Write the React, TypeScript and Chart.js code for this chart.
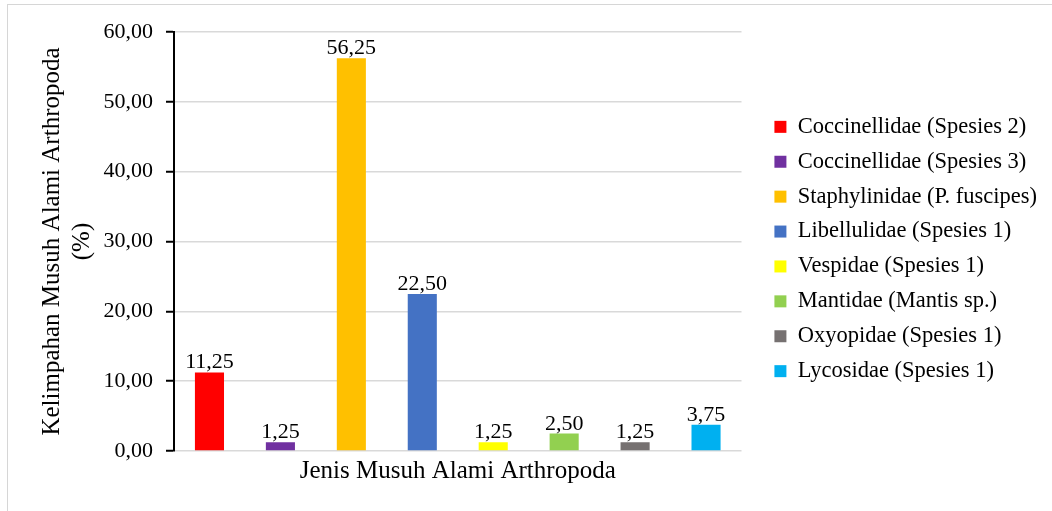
import React, { useEffect, useRef } from 'react';
import { Chart, registerables } from 'chart.js';

Chart.register(...registerables);

// ---- data ----
const categories = ['Jenis Musuh Alami Arthropoda'];
const seriesNames = [
  'Coccinellidae (Spesies 2)',
  'Coccinellidae (Spesies 3)',
  'Staphylinidae (P. fuscipes)',
  'Libellulidae (Spesies 1)',
  'Vespidae (Spesies 1)',
  'Mantidae (Mantis sp.)',
  'Oxyopidae (Spesies 1)',
  'Lycosidae (Spesies 1)',
];
const seriesValues = [11.25, 1.25, 56.25, 22.5, 1.25, 2.5, 1.25, 3.75];
const seriesColors = ['#FF0000', '#7030A0', '#FFC000', '#4472C4', '#FFFF00', '#92D050', '#767171', '#00B0F0'];
const yAxisTitle = ['Kelimpahan Musuh Alami Arthropoda', '(%)'];
const yMin = 0;
const yMax = 60;
const yStep = 10;

const FONT = "'Liberation Serif', 'Times New Roman', serif";
const fmt = (v: number) => Number(v).toFixed(2).replace('.', ',');

const valueLabels = {
  id: 'valueLabels',
  afterDatasetsDraw(chart: any) {
    const ctx = chart.ctx;
    ctx.save();
    ctx.font = `22px ${FONT}`;
    ctx.fillStyle = '#000';
    ctx.textAlign = 'center';
    ctx.textBaseline = 'alphabetic';
    chart.data.datasets.forEach((ds: any, i: number) => {
      const meta = chart.getDatasetMeta(i);
      meta.data.forEach((bar: any, j: number) => {
        ctx.fillText(fmt(ds.data[j]), bar.x, bar.y - 4);
      });
    });
    ctx.restore();
  },
};

export default function App() {
  const ref = useRef<HTMLCanvasElement | null>(null);

  useEffect(() => {
    if (!ref.current) return;
    const chart = new Chart(ref.current, {
      type: 'bar',
      data: {
        labels: categories,
        datasets: seriesNames.map((name, i) => ({
          label: name,
          data: [seriesValues[i]],
          backgroundColor: seriesColors[i],
          borderWidth: 0,
          barPercentage: 0.41,
          categoryPercentage: 1.0,
        })),
      },
      options: {
        animation: false,
        responsive: true,
        maintainAspectRatio: false,
        layout: { padding: { left: 0, top: 32, right: 5, bottom: 25 } },
        plugins: {
          legend: {
            position: 'right',
            fullSize: false,
            align: 'center',
            maxWidth: 500,
            title: { display: true, text: '', font: { size: 10, lineHeight: 1.5 }, padding: 0 },
            labels: {
              boxWidth: 12,
              boxHeight: 12,
              padding: 12.4,
              color: '#000',
              font: { family: FONT, size: 22.5 },
            },
          },
          tooltip: { enabled: false },
        },
        scales: {
          x: {
            type: 'category',
            grid: { display: false, drawTicks: false },
            border: { display: false },
            ticks: { display: false },
            title: {
              display: true,
              text: categories[0],
              color: '#000',
              font: { family: FONT, size: 25, lineHeight: 1.2 },
              padding: { top: 5, bottom: 0 },
            },
          },
          y: {
            min: yMin,
            max: yMax,
            ticks: {
              stepSize: yStep,
              padding: 13,
              color: '#000',
              font: { family: FONT, size: 22 },
              callback: (v: any) => fmt(v),
            },
            grid: {
              color: '#d9d9d9',
              lineWidth: 1.5,
              tickColor: '#000',
              tickLength: 8,
              tickWidth: 2,
            },
            border: { display: true, color: '#000', width: 2 },
            title: {
              display: true,
              text: yAxisTitle,
              color: '#000',
              font: { family: FONT, size: 25, lineHeight: 1.2 },
              padding: { top: 37, bottom: 0 },
            },
            afterFit: (s: any) => {
              s.width = 174;
            },
          },
          y2: {
            position: 'right',
            display: true,
            grid: { display: false, drawTicks: false },
            border: { display: false },
            ticks: { display: false },
            afterFit: (s: any) => {
              s.width = 20.5;
            },
          },
        },
      },
      plugins: [valueLabels],
    } as any);
    return () => chart.destroy();
  }, []);

  return (
    <div style={{ position: 'fixed', left: 0, top: 0, width: 1052, height: 511, overflow: 'hidden', background: '#fff' }}>
      <div
        style={{
          position: 'absolute',
          left: 7,
          top: 4,
          width: 1100,
          height: 600,
          border: '1.5px solid #d6d6d6',
        }}
      />
      <div style={{ position: 'absolute', left: 0, top: 0, width: 1052, height: 511 }}>
        <canvas ref={ref} />
      </div>
    </div>
  );
}
